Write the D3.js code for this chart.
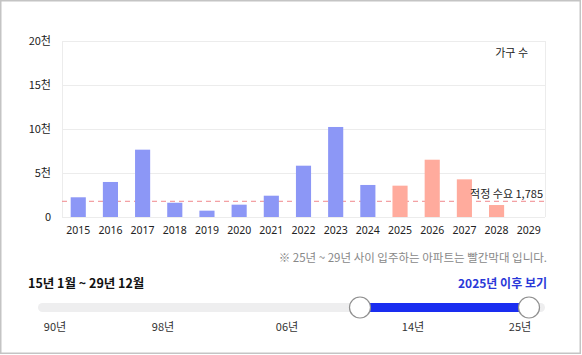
<!DOCTYPE html>
<html><head><meta charset="utf-8">
<script src="https://cdn.jsdelivr.net/npm/d3@7"></script>
<style>
html,body{margin:0;padding:0;background:#fff;}
svg{display:block;font-family:"Noto Sans CJK KR","Noto Sans",sans-serif;}
</style></head>
<body>
<svg id="c" width="582" height="355"></svg>
<script>
const years = ["2015","2016","2017","2018","2019","2020","2021","2022","2023","2024","2025","2026","2027","2028","2029"];
const households = [2240,3980,7650,1620,720,1400,2420,5830,10230,3640,3560,6510,4280,1360,0];
const futureYears = ["2025","2026","2027","2028","2029"];
const yTicks = [0,5000,10000,15000,20000];
const yTickLabels = ["0","5천","10천","15천","20천"];
const demand = 1785;
const sliderLabels = ["90년","98년","06년","14년","25년"];
const sliderLabelPos = [55,163,287,413,520];
const sliderRange = [360,529];

(function(){
const svg = d3.select("#c");
svg.append("rect").attr("x",0.75).attr("y",0.75).attr("width",579.5).attr("height",352.5)
  .attr("fill","#fff").attr("stroke","#c4c4c4").attr("stroke-width",1.5);

const pL=62,pR=545,pT=41,pB=217;
const x = d3.scaleBand().domain(years).range([pL,pR]).paddingInner(0.53).paddingOuter(0.27);
const y = d3.scaleLinear().domain([0,20000]).range([pB,pT]);

// grid
svg.append("g").selectAll("line").data(yTicks).join("line")
  .attr("x1",pL).attr("x2",pR).attr("y1",d=>y(d)+0.5).attr("y2",d=>y(d)+0.5)
  .attr("stroke","#ececec");
svg.append("line").attr("x1",pL+0.5).attr("x2",pL+0.5).attr("y1",pT).attr("y2",pB).attr("stroke","#ececec");
svg.append("line").attr("x1",pR+0.5).attr("x2",pR+0.5).attr("y1",pT).attr("y2",pB).attr("stroke","#ececec");

// y axis labels
const yAxis = d3.axisLeft(y).tickValues(yTicks).tickFormat((d,i)=>yTickLabels[i]).tickSize(0).tickPadding(11);
const ya = svg.append("g").attr("transform",`translate(${pL},0)`).call(yAxis);
ya.select(".domain").remove();
ya.selectAll("text").attr("font-size",11).attr("fill","#222").attr("font-family","Noto Sans CJK KR");

// demand line (behind bars)
svg.append("line").attr("x1",pL).attr("x2",pR).attr("y1",y(demand)).attr("y2",y(demand))
  .attr("stroke","#f0888c").attr("stroke-dasharray","5,4").attr("stroke-width",1);

// bars
svg.append("g").selectAll("rect").data(years).join("rect")
  .attr("x",d=>x(d)).attr("width",x.bandwidth())
  .attr("y",(d,i)=>y(households[i])).attr("height",(d,i)=>pB-y(households[i]))
  .attr("fill",d=>futureYears.includes(d)?"#ffab9d":"#8c97f6");

// x axis
const xAxis = d3.axisBottom(x).tickSize(0).tickPadding(10);
const xa = svg.append("g").attr("transform",`translate(0,${pB})`).call(xAxis);
xa.select(".domain").remove();
xa.selectAll("text").attr("font-size",10.5).attr("fill","#222").attr("font-family","Noto Sans");

svg.append("text").attr("x",543).attr("y",193).attr("text-anchor","end").attr("dominant-baseline","central")
  .attr("font-size",11).attr("fill","#222").text("적정 수요 "+d3.format(",")(demand));

svg.append("text").attr("x",528).attr("y",52).attr("text-anchor","end").attr("dominant-baseline","central")
  .attr("font-size",11).attr("fill","#222").text("가구 수");

// note
svg.append("text").attr("x",547).attr("y",257).attr("text-anchor","end").attr("dominant-baseline","central")
  .attr("font-size",11.5).attr("fill","#888").text("※ 25년 ~ 29년 사이 입주하는 아파트는 빨간막대 입니다.");

svg.append("text").attr("x",28).attr("y",282).attr("dominant-baseline","central")
  .attr("font-size",12.5).attr("font-weight","bold").attr("fill","#111").text("15년 1월 ~ 29년 12월");
svg.append("text").attr("x",547).attr("y",282).attr("text-anchor","end").attr("dominant-baseline","central")
  .attr("font-size",12).attr("font-weight","bold").attr("fill","#2a38d8").text("2025년 이후 보기");

// slider
svg.append("rect").attr("x",38).attr("y",303).attr("width",507).attr("height",9).attr("rx",4.5).attr("fill","#eeeeef");
svg.append("rect").attr("x",sliderRange[0]).attr("y",303).attr("width",sliderRange[1]-sliderRange[0]).attr("height",9).attr("fill","#1a2df0");
svg.append("g").selectAll("circle").data(sliderRange).join("circle")
  .attr("cx",d=>d).attr("cy",307.5).attr("r",10.5).attr("fill","#fff").attr("stroke","#8f8f8f").attr("stroke-width",1.2);
svg.append("g").selectAll("text").data(sliderLabels).join("text")
  .attr("x",(d,i)=>sliderLabelPos[i]).attr("y",326).attr("text-anchor","middle").attr("dominant-baseline","central")
  .attr("font-size",11).attr("fill","#333").text(d=>d);
})();
</script>
</body></html>
